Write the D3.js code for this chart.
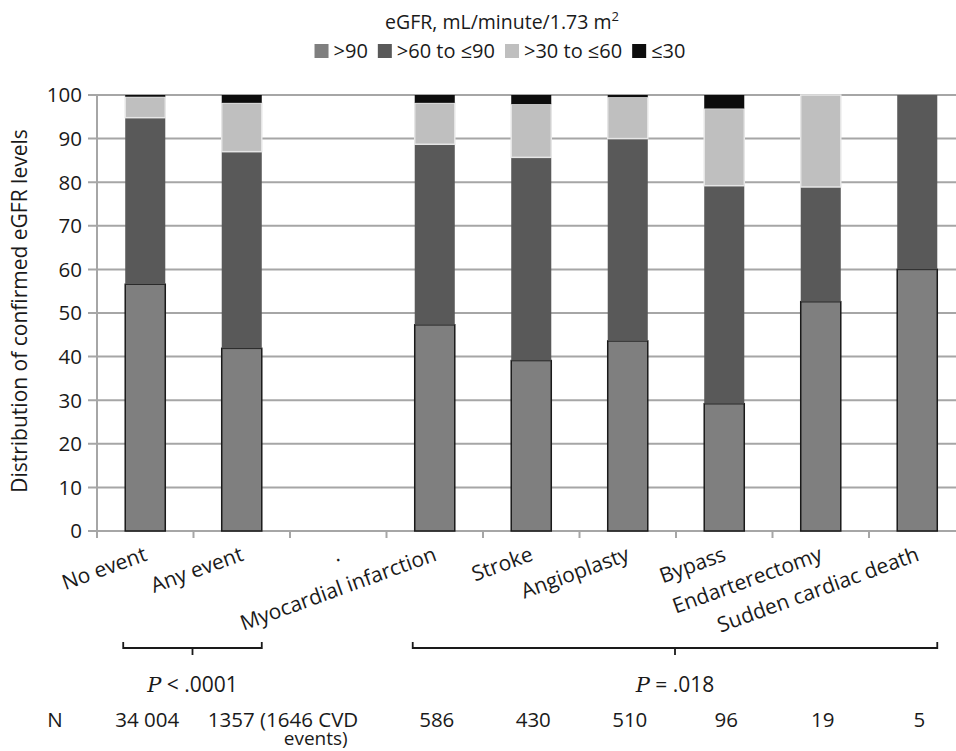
<!DOCTYPE html>
<html lang="en">
<head>
  <meta charset="UTF-8">
  <script src="https://d3js.org/d3.v7.min.js"></script>
  <title>eGFR distribution by CVD event</title>
  <style>
    body {
      margin: 0;
      background: #fff;
      font-family: "Open Sans", Arial, sans-serif;
      overflow: hidden;
    }
    text {
      fill: #1a1a1a;
    }
  </style>
</head>
<body>
<script>
  // Chart data
  const categories = ["No event", "Any event", ".", "Myocardial infarction", "Stroke",
    "Angioplasty", "Bypass", "Endarterectomy", "Sudden cardiac death"];
  const seriesNames = [">90", ">60 to \u226490", ">30 to \u226460", "\u226430"];
  const gt90 = [56.6, 41.9, 0, 47.3, 39.1, 43.6, 29.2, 52.6, 60.0];
  const gt60 = [38.2, 45.1, 0, 41.4, 46.6, 46.4, 50.0, 26.3, 40.0];
  const gt30 = [4.8, 11.2, 0, 9.5, 12.2, 9.5, 17.7, 21.1, 0];
  const le30 = [0.4, 1.8, 0, 1.8, 2.1, 0.5, 3.1, 0, 0];
  const yTicks = [0, 10, 20, 30, 40, 50, 60, 70, 80, 90, 100];
  const nLabels = ["34 004", "1357 (1646 CVD|events)", "", "586", "430", "510", "96", "19", "5"];
  const brackets = [
    { from: "No event", to: "Any event", op: "<", p: ".0001" },
    { from: "Myocardial infarction", to: "Sudden cardiac death", op: "=", p: ".018" }
  ];

  const colors = ["#7f7f7f", "#595959", "#bfbfbf", "#0d0d0d"];

  const width = 956, height = 751;
  const margin = { top: 95, left: 97, bottom: 220 };
  const plotBottom = height - margin.bottom; // 531

  const svg = d3.select("body").append("svg")
    .attr("width", width)
    .attr("height", height);

  // scales
  const step = 96.5;
  const x = d3.scaleBand()
    .domain(categories)
    .range([margin.left, margin.left + step * categories.length])
    .paddingInner(0.585)
    .paddingOuter(0.2925);

  const y = d3.scaleLinear()
    .domain([0, 100])
    .range([plotBottom, margin.top]);

  // gridlines
  svg.append("g")
    .selectAll("line")
    .data(yTicks)
    .enter().append("line")
    .attr("x1", margin.left - 9)
    .attr("x2", width)
    .attr("y1", d => y(d))
    .attr("y2", d => y(d))
    .attr("stroke", "#a6a6a6")
    .attr("stroke-width", 2);

  // y axis line
  svg.append("line")
    .attr("x1", margin.left).attr("x2", margin.left)
    .attr("y1", y(0)).attr("y2", y(100))
    .attr("stroke", "#a6a6a6")
    .attr("stroke-width", 2);

  // x tick marks at band boundaries
  const boundaries = d3.range(categories.length + 1).map(i => margin.left + i * step);
  svg.append("g")
    .selectAll("line")
    .data(boundaries)
    .enter().append("line")
    .attr("x1", d => d).attr("x2", d => d)
    .attr("y1", y(0)).attr("y2", y(0) + 7)
    .attr("stroke", "#a6a6a6")
    .attr("stroke-width", 2);

  // y tick labels
  svg.append("g")
    .selectAll("text")
    .data(yTicks)
    .enter().append("text")
    .attr("x", 82)
    .attr("y", d => y(d))
    .attr("dy", "0.36em")
    .attr("text-anchor", "end")
    .attr("font-size", 20.5)
    .text(d => d);

  // y axis title
  svg.append("text")
    .attr("transform", `translate(21,${(y(0) + y(100)) / 2 - 2}) rotate(-90)`)
    .attr("text-anchor", "middle")
    .attr("dominant-baseline", "middle")
    .attr("font-size", 21)
    .text("Distribution of confirmed eGFR levels");

  // stacked bars
  const table = categories.map((c, i) => ({
    cat: c, s0: gt90[i], s1: gt60[i], s2: gt30[i], s3: le30[i]
  }));
  const stack = d3.stack().keys(["s0", "s1", "s2", "s3"]);
  const layers = stack(table);

  const layerG = svg.append("g")
    .selectAll("g")
    .data(layers)
    .enter().append("g")
    .attr("fill", (d, i) => colors[i]);

  layerG.selectAll("rect")
    .data(d => d.filter(v => v[1] - v[0] > 0))
    .enter().append("rect")
    .attr("x", d => x(d.data.cat))
    .attr("width", x.bandwidth())
    .attr("y", d => y(d[1]))
    .attr("height", d => y(d[0]) - y(d[1]))
    .attr("stroke", function () {
      const k = d3.select(this.parentNode).datum().index;
      return k === 0 ? "#1a1a1a" : (k === 2 ? "#e6e6e6" : "none");
    })
    .attr("stroke-width", 1.5);

  // x labels
  svg.append("g")
    .selectAll("text")
    .data(categories)
    .enter().append("text")
    .attr("transform", d => `translate(${x(d) + x.bandwidth() / 2 + 3},${y(0) + 29}) rotate(-20)`)
    .attr("text-anchor", "end")
    .attr("font-size", 21)
    .text(d => d);

  // legend
  const legendTitle = svg.append("text")
    .attr("x", 502)
    .attr("y", 29)
    .attr("text-anchor", "middle")
    .attr("font-size", 19.5);
  legendTitle.append("tspan").text("eGFR, mL/minute/1.73 m");
  legendTitle.append("tspan").attr("dy", -8).attr("font-size", 13).text("2");

  const legend = svg.append("g");
  let lx = 0;
  seriesNames.forEach((name, i) => {
    const item = legend.append("g").attr("transform", `translate(${lx},0)`);
    item.append("rect")
      .attr("x", 0).attr("y", 44)
      .attr("width", 14).attr("height", 14)
      .attr("fill", colors[i]);
    const t = item.append("text")
      .attr("x", 19).attr("y", 58)
      .attr("font-size", 20)
      .text(name);
    lx += 19 + t.node().getComputedTextLength() + 10;
  });
  legend.attr("transform", `translate(${500 - (lx - 10) / 2},0)`);

  // brackets with P values
  brackets.forEach(b => {
    const x1 = x(b.from) - 2;
    const x2 = x(b.to) + x.bandwidth();
    const yb = 648;
    const mid = (x1 + x2) / 2;
    svg.append("path")
      .attr("d", `M${x1},${yb - 6}V${yb}H${x2}V${yb - 6}M${mid},${yb}V${yb + 7}`)
      .attr("fill", "none")
      .attr("stroke", "#1a1a1a")
      .attr("stroke-width", 1.8);
    const t = svg.append("text")
      .attr("x", mid)
      .attr("y", 692)
      .attr("text-anchor", "middle")
      .attr("font-size", 21);
    t.append("tspan")
      .attr("font-family", "'DejaVu Serif', 'Liberation Serif', serif")
      .attr("font-style", "italic")
      .text("P");
    t.append("tspan").text(` ${b.op} ${b.p}`);
  });

  // N row
  svg.append("text")
    .attr("x", 55).attr("y", 727)
    .attr("text-anchor", "middle")
    .attr("font-size", 20.5)
    .text("N");

  svg.append("g")
    .selectAll("text")
    .data(categories.map((c, i) => ({ cat: c, label: nLabels[i].split("|")[0] })).filter(d => d.label))
    .enter().append("text")
    .attr("y", 727)
    .attr("font-size", 20.5)
    .attr("text-anchor", d => d.cat === "Any event" ? "start" : "middle")
    .attr("x", d => d.cat === "Any event"
      ? x(d.cat) + x.bandwidth() / 2 - 34
      : x(d.cat) + x.bandwidth() / 2 + 2)
    .text(d => d.label);

  // wrapped second line of the "Any event" count
  const wrapIdx = nLabels.findIndex(s => s.includes("|"));
  svg.append("text")
    .attr("x", x(categories[wrapIdx]) + x.bandwidth() / 2 + 74)
    .attr("y", 745)
    .attr("text-anchor", "middle")
    .attr("font-size", 19)
    .text(nLabels[wrapIdx].split("|")[1]);
</script>
</body>
</html>
